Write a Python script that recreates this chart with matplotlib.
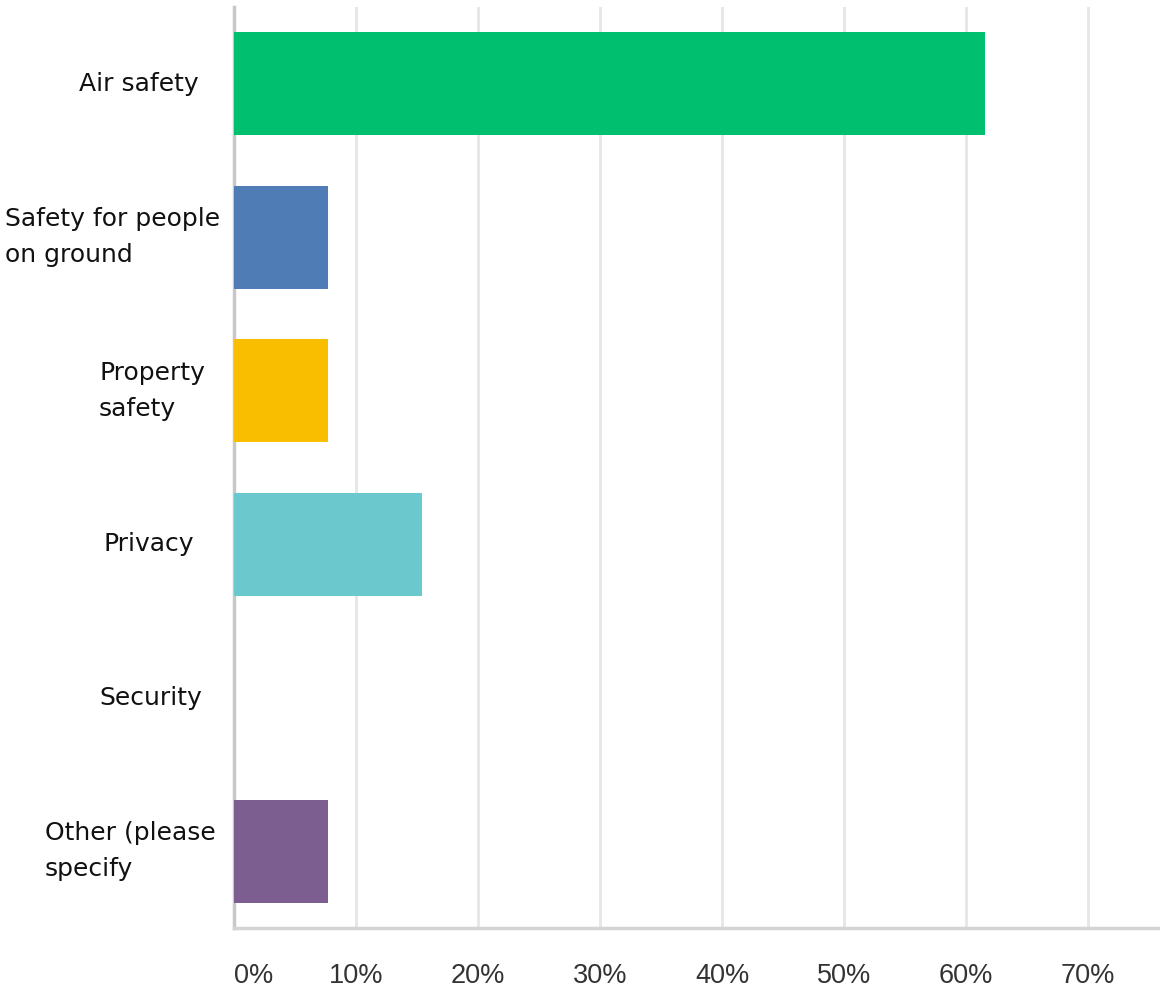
import numpy as np
import matplotlib.pyplot as plt
from matplotlib.transforms import blended_transform_factory

# survey answers, share of respondents
answers = ['Air safety', 'Safety for people\non ground', 'Property\nsafety',
           'Privacy', 'Security', 'Other (please\nspecify']
shares = [61.54, 7.69, 7.69, 15.38, 0.0, 7.69]
colors = ['#00BF6F', '#507CB6', '#F9BE00', '#6BC8CD', '#FF8B4F', '#7D5E90']
ticks = [0, 10, 20, 30, 40, 50, 60, 70]

# left edge of each category label block (figure pixels)
label_left = [79, 5, 99, 103, 99, 45]

W, H = 1160, 994
fig = plt.figure(figsize=(W / 100, H / 100), dpi=100)
ax = fig.add_axes([234 / W, 1 - 928 / H, 926 / W, 921 / H])

Y = np.arange(len(answers))
ax.barh(Y, shares, height=0.67, color=colors, zorder=3)
ax.set_ylim(len(answers) - 0.5, -0.5)
ax.set_xlim(0, 75.9)

ax.set_xticks(ticks)
ax.set_xticklabels(['%d%%' % t for t in ticks], fontsize=19.5, color='#333333',
                   family='Liberation Sans')
ax.get_xticklabels()[0].set_ha('left')
ax.tick_params(axis='x', length=0, pad=25)
ax.set_yticks([])
ax.xaxis.grid(True, color='#e6e6e6', linewidth=2, zorder=0)

for s in ['top', 'right']:
    ax.spines[s].set_visible(False)
ax.spines['left'].set_color('#c8c8c8')
ax.spines['left'].set_linewidth(2.5)
ax.spines['bottom'].set_color('#d4d4d4')
ax.spines['bottom'].set_linewidth(2.5)

# category labels, left-aligned blocks beside each bar
trans = blended_transform_factory(fig.transFigure, ax.transData)
for i, name in enumerate(answers):
    ax.text(label_left[i] / W, i, name, transform=trans,
            ha='left', va='center', fontsize=18, color='#111111',
            family='DejaVu Sans', linespacing=1.65)

plt.savefig('out.png', dpi=100)
